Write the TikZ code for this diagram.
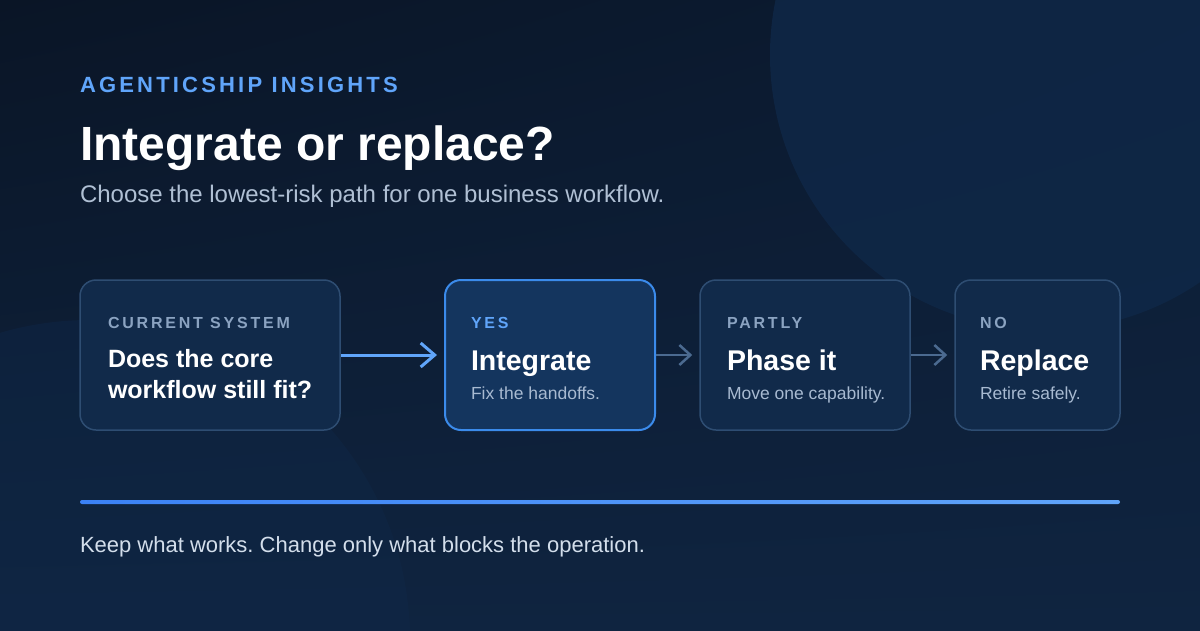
\documentclass[tikz,border=0pt]{standalone}
\usepackage{fontspec}
\setmainfont{Liberation Sans}
\newfontfamily\spacedA[LetterSpace=14.5]{Liberation Sans}
\newfontfamily\spacedB[LetterSpace=17.5]{Liberation Sans}
\usetikzlibrary{arrows.meta,shadings}
\frenchspacing
\definecolor{bgUL}{HTML}{0A1526}
\definecolor{bgUR}{HTML}{0C1C33}
\definecolor{bgLL}{HTML}{0F2440}
\definecolor{bgLR}{HTML}{0F2440}
\definecolor{circA}{HTML}{0F2848}
\definecolor{accent}{HTML}{60A5FA}
\definecolor{accentB}{HTML}{3B82F6}
\definecolor{muted}{HTML}{8BA3C1}
\definecolor{subtxt}{HTML}{A8BAD1}
\definecolor{subtitle}{HTML}{B0C0D4}
\definecolor{footer}{HTML}{D3DEEB}
\definecolor{boxfill}{HTML}{112A4A}
\definecolor{boxline}{HTML}{2E4D72}
\definecolor{hifill}{HTML}{14355E}
\definecolor{hiline}{HTML}{3B8BEB}
\definecolor{arrmuted}{HTML}{4B6A90}
\tikzset{
  txt/.style={anchor=base west, inner sep=0pt, outer sep=0pt},
  card/.style={draw=boxline, fill=boxfill, line width=1.5pt, rounded corners=16pt, minimum height=150pt, inner sep=0pt},
  hicard/.style={card, draw=hiline, fill=hifill, line width=2pt},
  lbl/.style={txt, text=muted, font=\spacedB\bfseries\fontsize{16}{19}\selectfont},
  ttl/.style={txt, text=white, font=\bfseries\fontsize{28.5}{32}\selectfont},
  sub/.style={txt, text=subtxt, font=\fontsize{17.5}{21}\selectfont},
  mainarrow/.style={draw=accent, line width=3pt, -{Straight Barb[length=14pt, width=24pt, line width=3pt]}},
  minorarrow/.style={draw=arrmuted, line width=2.5pt, -{Straight Barb[length=11pt, width=20pt, line width=2.5pt]}}
}
\begin{document}
\frenchspacing
\begin{tikzpicture}[x=1pt,y=-1pt]
\useasboundingbox (0,0) rectangle (1200,630);
\shade[upper left=bgUL, upper right=bgUR, lower left=bgLL, lower right=bgLR] (0,0) rectangle (1200,630);
\begin{scope}
  \clip (0,0) rectangle (1200,630);
  \fill[circA, opacity=0.8] (1045,55) circle[radius=275pt];
  \fill[circA, opacity=0.45] (90,640) circle[radius=320pt];
\end{scope}

\node[txt, text=accent, font=\spacedA\bfseries\fontsize{22}{26}\selectfont] (kicker) at (80,92) {AGENTICSHIP INSIGHTS};
\node[txt, text=white, font=\bfseries\fontsize{48}{54}\selectfont] (title) at (80,160) {Integrate or replace?};
\node[txt, text=subtitle, font=\fontsize{24}{28}\selectfont] (subt) at (80,202) {Choose the lowest-risk path for one business workflow.};

\node[card, minimum width=260pt] (b1) at (210,355) {};
\node[hicard, minimum width=210pt] (b2) at (550,355) {};
\node[card, minimum width=210pt] (b3) at (805,355) {};
\node[card, minimum width=165pt] (b4) at (1037.5,355) {};

\node[lbl] (l1) at (108,328) {CURRENT SYSTEM};
\node[txt, text=white, font=\bfseries\fontsize{25}{30}\selectfont] (t1a) at (108,367) {Does the core};
\node[txt, text=white, font=\bfseries\fontsize{25}{30}\selectfont] (t1b) at (108,398) {workflow still fit?};

\node[lbl, text=accent] (l2) at (471,328) {YES};
\node[ttl] (t2) at (471,370) {Integrate};
\node[sub] (s2) at (471,399) {Fix the handoffs.};

\node[lbl] (l3) at (727,328) {PARTLY};
\node[ttl] (t3) at (727,370) {Phase it};
\node[sub] (s3) at (727,399) {Move one capability.};

\node[lbl] (l4) at (980,328) {NO};
\node[ttl] (t4) at (980,370) {Replace};
\node[sub] (s4) at (980,399) {Retire safely.};

\draw[mainarrow] (b1.east) -- ([xshift=-7pt]b2.west);
\draw[minorarrow] (b2.east) -- ([xshift=-7pt]b3.west);
\draw[minorarrow] (b3.east) -- ([xshift=-7pt]b4.west);

\shade[left color=accentB, right color=accent, rounded corners=2pt] (80,500) rectangle (1120,504);

\node[txt, text=footer, font=\fontsize{22}{26}\selectfont] (foot) at (80,552) {Keep what works. Change only what blocks the operation.};
\end{tikzpicture}
\end{document}
